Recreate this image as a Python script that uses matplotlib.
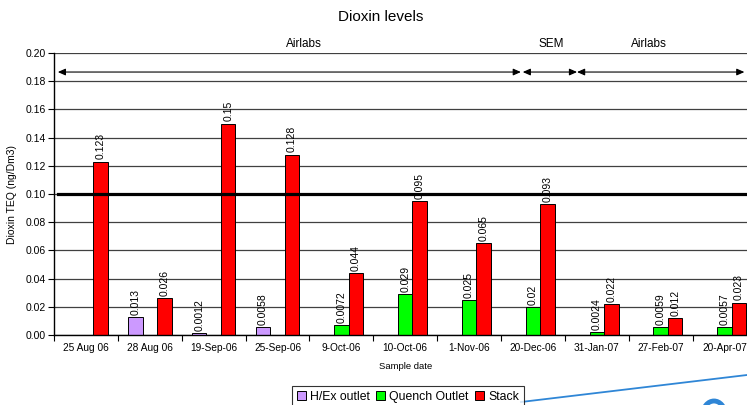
import matplotlib
matplotlib.use("Agg")
from matplotlib import pyplot as plt
from matplotlib.lines import Line2D
from matplotlib.patches import Ellipse
import numpy as np

plt.rcParams['font.family'] = ['Liberation Sans', 'DejaVu Sans']

dates = ['25 Aug 06', '28 Aug 06', '19-Sep-06', '25-Sep-06', '9-Oct-06',
         '10-Oct-06', '1-Nov-06', '20-Dec-06', '31-Jan-07', '27-Feb-07',
         '20-Apr-07']

# None = not sampled at that point
hex_outlet = [None, 0.013, 0.0012, 0.0058, None, None, None, None, None, None, None]
quench_outlet = [None, None, None, None, 0.0072, 0.029, 0.025, 0.02, 0.0024, 0.0059, 0.0057]
stack = [0.123, 0.026, 0.15, 0.128, 0.044, 0.095, 0.065, 0.093, 0.022, 0.012, 0.023]

limit = 0.10

# sampling contractor periods (start, end in category units)
lab_names = ['Airlabs', 'SEM', 'Airlabs']
lab_spans = [(-0.44, 6.81), (6.84, 7.69), (7.69, 10.31)]
lab_label_x = [3.42, 7.28, 8.81]

series = [
    ('H/Ex outlet', hex_outlet, '#CC99FF'),
    ('Quench Outlet', quench_outlet, '#00FF00'),
    ('Stack', stack, '#FF0000'),
]

fig = plt.figure(figsize=(7.47, 4.05), dpi=100)
ax = fig.add_axes([54 / 747, 70 / 405, 702.5 / 747, 282 / 405])

index = np.arange(len(dates))
width = 0.227

for k, (name, vals, color) in enumerate(series):
    offset = (k - 1) * width
    xs = [i + offset for i, v in enumerate(vals) if v is not None]
    ys = [v for v in vals if v is not None]
    ax.bar(xs, ys, width, color=color, edgecolor='black', linewidth=0.7,
           label=name, zorder=2)
    for x, y in zip(xs, ys):
        ax.text(x, y + 0.0015, f'{y:g}', rotation=90, ha='center', va='bottom',
                fontsize=7.5, zorder=4)

ax.axhline(limit, xmin=4 / 702.5, color='black', linewidth=2.3, zorder=3)

ax.set_ylim(0, 0.20)
ax.set_xlim(-0.5, len(dates) - 0.5)
ax.set_yticks(np.arange(0, 0.201, 0.02))
ax.set_yticklabels([f'{t:.2f}' for t in np.arange(0, 0.201, 0.02)])
ax.yaxis.grid(True, color='#404040', linewidth=0.9, zorder=0)
ax.set_axisbelow(True)

ax.set_xticks(index)
ax.set_xticklabels(dates)
ax.set_xticks(np.arange(-0.5, len(dates)), minor=True)
ax.tick_params(axis='x', which='major', length=0, pad=6, labelsize=7.3)
ax.tick_params(axis='x', which='minor', length=4, width=0.8, direction='out')
ax.tick_params(axis='y', length=4, width=0.8, labelsize=7.5, pad=2)

for side in ['top', 'right']:
    ax.spines[side].set_visible(False)
ax.spines['left'].set_linewidth(1.0)
ax.spines['bottom'].set_linewidth(1.0)

ax.set_xlabel('Sample date', fontsize=6.8, labelpad=6)
ax.set_ylabel('Dioxin TEQ (ng/Dm3)', fontsize=7.5, labelpad=6)

# contractor arrows along the top
for (x0, x1), name, lx in zip(lab_spans, lab_names, lab_label_x):
    ax.annotate('', xy=(x1, 0.1865), xytext=(x0, 0.1865),
                arrowprops=dict(arrowstyle='<|-|>,head_length=0.45,head_width=0.2',
                                color='black', lw=0.8, shrinkA=0, shrinkB=0,
                                mutation_scale=10),
                annotation_clip=False)
    ax.text(lx, 0.2062, name, ha='center', va='center', fontsize=8.5)

fig.text(381 / 747, 1 - 17 / 405, 'Dioxin levels', ha='center', va='center',
         fontsize=11)

leg = fig.legend(loc='upper left', bbox_to_anchor=(292 / 747, 1 - 386 / 405),
                 ncol=3, fontsize=8.8, frameon=True, fancybox=False,
                 edgecolor='black', handlelength=0.75, handleheight=0.75,
                 handletextpad=0.3, columnspacing=0.55, borderpad=0.4,
                 borderaxespad=0)
leg.get_frame().set_linewidth(0.8)

# stray connector line and emblem at the lower right
fig.add_artist(Line2D([521 / 747, 1.0], [3 / 405, 30 / 405],
                      color='#2F86D6', linewidth=1.3))
fig.add_artist(Ellipse((714 / 747, -9 / 405), 22 / 747, 26 / 405,
                       facecolor='none', edgecolor='#2F86D6', linewidth=3.5))

fig.savefig('out.png', dpi=100)
